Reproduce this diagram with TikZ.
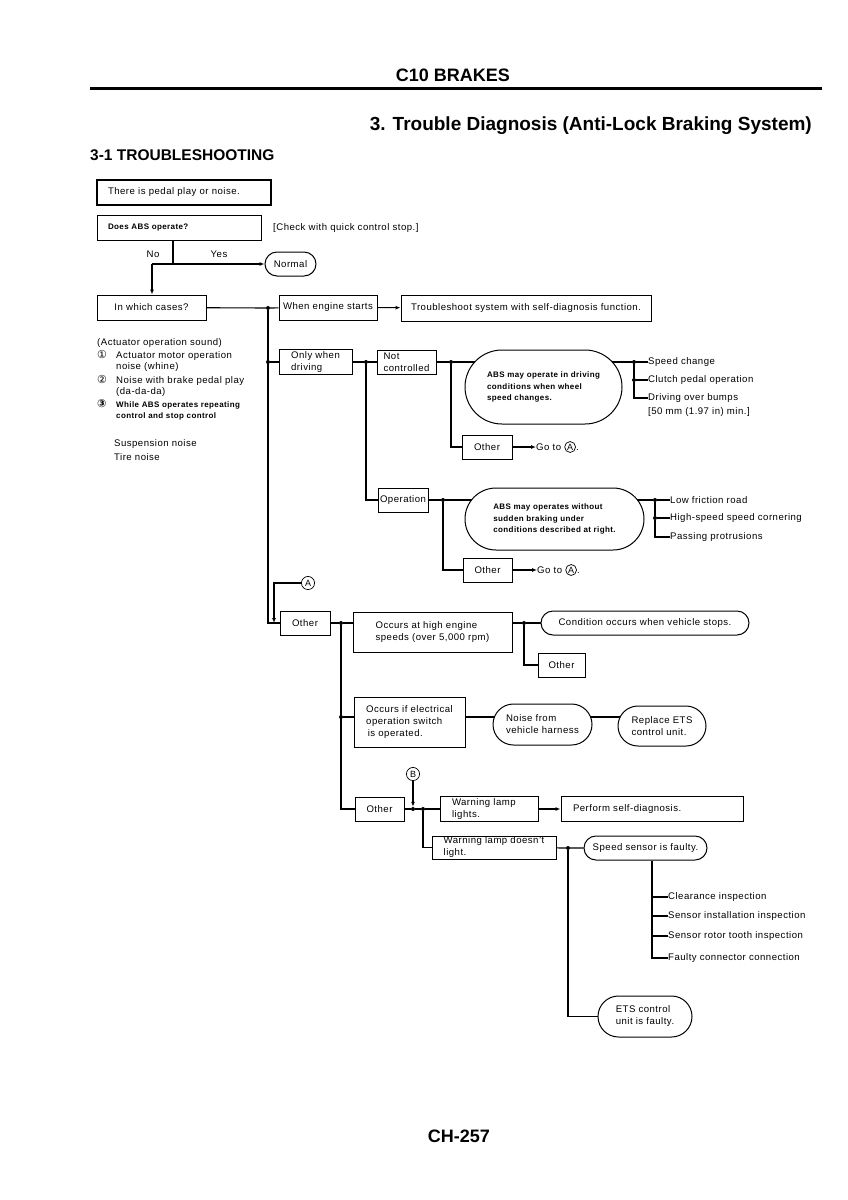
\documentclass[tikz,border=0pt]{standalone}
\usepackage{fontspec}
\setmainfont{Liberation Sans}[LetterSpace=5]
\newfontfamily\headfont{Liberation Sans}
\newfontfamily\symfont{DejaVu Sans}
\usetikzlibrary{shapes.misc, arrows.meta, positioning, backgrounds}

\newcommand{\txt}{\fontsize{9.6}{12}\selectfont}
\newcommand{\smtxt}{\fontsize{8}{11.5}\selectfont\bfseries}
\newcommand{\circnum}[1]{{\symfont\fontsize{11}{12}\selectfont #1}}

\begin{document}
\begin{tikzpicture}[x=1pt, y=-1pt]
% Define styles
\tikzstyle{box} = [rectangle, draw, line width=1pt, fill=white, inner xsep=4pt, inner ysep=2pt, align=left, font=\txt]
\tikzstyle{pill} = [rounded rectangle, draw, line width=1pt, fill=white, inner xsep=4pt, inner ysep=2pt, align=left, font=\txt]
\tikzstyle{lbl} = [inner sep=0pt, anchor=west, align=left, font=\txt]
\tikzstyle{dot} = [circle, fill, inner sep=0pt, minimum size=4pt]
\tikzstyle{conn} = [circle, draw, line width=0.7pt, inner sep=0.8pt, font=\headfont\fontsize{9}{9}\selectfont]
\tikzstyle{wire} = [line width=1.1pt]
\tikzstyle{arr} = [wire, -{Latex[length=5pt,width=4pt]}]

\useasboundingbox (0,0) rectangle (848,1200);

% Headings
\node (chap) [font=\headfont\bfseries\fontsize{18}{18}\selectfont] at (453,75) {C10 BRAKES};
\draw[line width=3pt] (90,88) -- (822,88);
\node (title) [inner sep=0pt, anchor=base east, font=\headfont\bfseries\fontsize{19}{19}\selectfont] at (812,130) {3. Trouble Diagnosis (Anti-Lock Braking System)};
\node (sect) [inner sep=0pt, anchor=base west, font=\headfont\bfseries\fontsize{15.5}{15.5}\selectfont] at (90,160) {3-1 TROUBLESHOOTING};
\node (page) [inner sep=0pt, anchor=base, font=\headfont\bfseries\fontsize{18}{18}\selectfont] at (459,1142) {CH-257};

% Nodes
\node (pedal) [box, line width=1.8pt, minimum width=174pt, minimum height=25pt, text width=152pt, inner xsep=11pt] at (184,192.5) {There is pedal play or noise.};
\node (abs) [box, minimum width=164pt, minimum height=25pt, text width=142pt, inner xsep=11pt, font=\smtxt] at (179,227.5) {Does ABS operate?};
\node (check) [lbl] at (273,228) {[Check with quick control stop.]};
\node (normal) [pill, minimum width=59pt, minimum height=24pt] at (290.5,264) {Normal};
\coordinate (cabs) at (173,264);
\coordinate (cno) at (152,264);
\node (no) [lbl, anchor=center] at (153,254) {No};
\node (yes) [lbl, anchor=center] at (219,254) {Yes};

\node (cases) [box, minimum width=109pt, minimum height=25pt] at (151.5,307.5) {In which cases?};
\node (ja) [dot] at (268,308) {};
\node (engine) [box, minimum width=98pt, minimum height=25pt] at (328,307.5) {When engine starts};
\node (selfdiag) [box, minimum width=250pt, minimum height=26pt] at (526,308) {Troubleshoot system with self-diagnosis function.};

% Left notes
\node (sound) [lbl] at (97,343) {(Actuator operation sound)};
\node (item1) [lbl] at (97,355) {\makebox[19pt][l]{\circnum{①}}Actuator motor operation};
\node (item1b) [lbl] at (116,367) {noise (whine)};
\node (item2) [lbl] at (97,380) {\makebox[19pt][l]{\circnum{②}}Noise with brake pedal play};
\node (item2b) [lbl] at (116,392) {(da-da-da)};
\node (item3) [lbl, font=\smtxt] at (97,404) {\makebox[19pt][l]{\circnum{③}}While ABS operates repeating};
\node (item3b) [lbl, font=\smtxt] at (116,416) {control and stop control};
\node (susp) [lbl] at (114,444) {Suspension noise};
\node (tire) [lbl] at (114,457) {Tire noise};

% Only when driving
\node (jb) [dot] at (268,362) {};
\node (driving) [box, minimum width=73pt, minimum height=24pt] at (315.5,362) {Only when\\driving};
\node (jc) [dot] at (366,362) {};
\node (notctl) [box, minimum width=59pt, minimum height=24pt] at (406.5,362) {Not\\controlled};
\node (jd) [dot] at (451,362) {};
\node (wheel) [pill, minimum width=165pt, minimum height=74pt, font=\smtxt] at (543.5,387) {ABS may operate in driving\\conditions when wheel\\speed changes.};
\node (je) [dot] at (634,362) {};
\node (jclutch) [dot] at (634,380) {};
\node (spdchg) [lbl] at (648,362) {Speed change};
\node (clutch) [lbl] at (648,380) {Clutch pedal operation};
\node (bumps) [lbl] at (648,398) {Driving over bumps};
\node (minh) [lbl] at (648,412) {[50 mm (1.97 in) min.]};
\node (other1) [box, minimum width=50pt, minimum height=24pt] at (487,447) {Other};
\node (goto1) [lbl] at (536,447) {Go to};
\node (gA1) [conn, right=3pt of goto1] {A};
\node (gstop1) [lbl, anchor=base west] at (gA1.base east) {.};

\node (operation) [box, minimum width=50pt, minimum height=24pt, inner xsep=1pt] at (403,500) {Operation};
\node (jf) [dot] at (443,500) {};
\node (sudden) [pill, minimum width=187pt, minimum height=62pt, font=\smtxt] at (554.5,519) {ABS may operates without\\sudden braking under\\conditions described at right.};
\node (jg) [dot] at (655,500) {};
\node (jhs) [dot] at (655,518) {};
\node (lowf) [lbl] at (670,500) {Low friction road};
\node (hispeed) [lbl] at (670,518) {High-speed speed cornering};
\node (protr) [lbl] at (670,537) {Passing protrusions};
\node (other2) [box, minimum width=49pt, minimum height=24pt] at (487.5,570) {Other};
\node (goto2) [lbl] at (537,570) {Go to};
\node (gA2) [conn, right=3pt of goto2] {A};
\node (gstop2) [lbl, anchor=base west] at (gA2.base east) {.};

% Other
\node (circA) [conn, inner sep=1.6pt] at (308,583) {A};
\coordinate (cA) at (274,623);
\node (otherA) [box, minimum width=50pt, minimum height=24pt] at (305,623) {Other};
\node (ji) [dot] at (341,623) {};
\node (hirpm) [box, minimum width=159pt, minimum height=40pt] at (432.5,632) {Occurs at high engine\\speeds (over 5,000 rpm)};
\node (jj) [dot] at (524,623) {};
\node (stops) [pill, minimum width=216pt, minimum height=24pt] at (645,623) {Condition occurs when vehicle stops.};
\node (otherH) [box, minimum width=47pt, minimum height=24pt] at (561.5,665) {Other};

\node (jk) [dot] at (341,717) {};
\node (elec) [box, minimum width=111pt, minimum height=50pt] at (409.5,722) {Occurs if electrical\\operation switch\\\,is operated.};
\node (harness) [pill, minimum width=107pt, minimum height=41pt] at (542.5,724.5) {Noise from\\vehicle harness};
\node (replets) [pill, minimum width=96pt, minimum height=40pt] at (662,726) {Replace ETS\\control unit.};

\node (otherB) [box, minimum width=49pt, minimum height=24pt] at (379.5,809) {Other};
\node (jl) [dot] at (413,809) {};
\node (circB) [conn, inner sep=1.6pt] at (413,774) {B};
\node (jm) [dot] at (423,809) {};
\node (lampon) [box, minimum width=98pt, minimum height=25pt, text width=74pt, inner xsep=12pt] at (489,809) {Warning lamp\\lights.};
\node (selftest) [box, minimum width=182pt, minimum height=25pt, text width=158pt, inner xsep=12pt] at (652,809) {Perform self-diagnosis.};
\node (lampoff) [box, minimum width=124pt, minimum height=23pt, inner ysep=1pt] at (494,847.5) {Warning lamp doesn't\\light.};
\node (jn) [dot] at (568,848) {};
\node (sensor) [pill, minimum width=131pt, minimum height=24pt] at (645.5,848) {Speed sensor is faulty.};
\coordinate (csens) at (652,958);
\node (clear) [lbl] at (668,897) {Clearance inspection};
\node (install) [lbl] at (668,916) {Sensor installation inspection};
\node (rotor) [lbl] at (668,936) {Sensor rotor tooth inspection};
\node (faulty) [lbl] at (668,958) {Faulty connector connection};
\node (etsunit) [pill, minimum width=102pt, minimum height=41pt] at (645,1016.5) {ETS control\\unit is faulty.};

% Connectors
\begin{scope}[on background layer]
\fill[white] (0,0) rectangle (848,1200);
\draw[wire] (abs.south -| cabs) -- (cabs);
\draw[arr] (cno) -- (normal);
\draw[arr] (cno) -- (cno |- cases.north);
\draw[wire] (cases) -- (ja) -- (engine);
\draw[arr] (engine) -- (selfdiag);
\draw[wire] (ja) |- (otherA);
\draw[wire] (jb) -- (driving);
\draw[wire] (driving) -- (jc) -- (notctl);
\draw[wire] (jc) |- (operation);
\draw[wire] (notctl) -- (jd) -- (jd -| wheel.center);
\draw[wire] (jd) |- (other1);
\draw[arr] (other1) -- (goto1);
\draw[wire] (je -| wheel.center) -- (je) -- (spdchg);
\draw[wire] (je) -- (jclutch) -- (clutch);
\draw[wire] (jclutch) |- (bumps);
\draw[wire] (operation) -- (jf) -- (jf -| sudden.center);
\draw[wire] (jf) |- (other2);
\draw[arr] (other2) -- (goto2);
\draw[wire] (jg -| sudden.center) -- (jg) -- (lowf);
\draw[wire] (jg) -- (jhs) -- (hispeed);
\draw[wire] (jhs) |- (protr);
\draw[arr] (circA) -| (cA);
\draw[wire] (otherA) -- (ji) -- (ji -| hirpm.west);
\draw[wire] (ji) |- (otherB);
\draw[wire] (jk) -- (jk -| elec.west);
\draw[wire] (hirpm.east |- jj) -- (jj) -- (stops);
\draw[wire] (jj) |- (otherH);
\draw[wire] (elec.east |- jk) -- (jk -| harness.center);
\draw[wire] (jk -| harness.center) -- (jk -| replets.center);
\draw[wire] (otherB) -- (jl) -- (jm) -- (lampon);
\draw[arr] (circB) -- (jl);
\draw[arr] (lampon) -- (selftest);
\draw[wire] (jm) |- (lampoff);
\draw[wire] (lampoff) -- (jn) -- (sensor);
\draw[wire] (jn) |- (etsunit);
\draw[wire] (sensor.south -| csens) -- (csens) -- (faulty);
\draw[wire] (clear -| csens) -- (clear);
\draw[wire] (install -| csens) -- (install);
\draw[wire] (rotor -| csens) -- (rotor);
\end{scope}
\end{tikzpicture}
\end{document}
